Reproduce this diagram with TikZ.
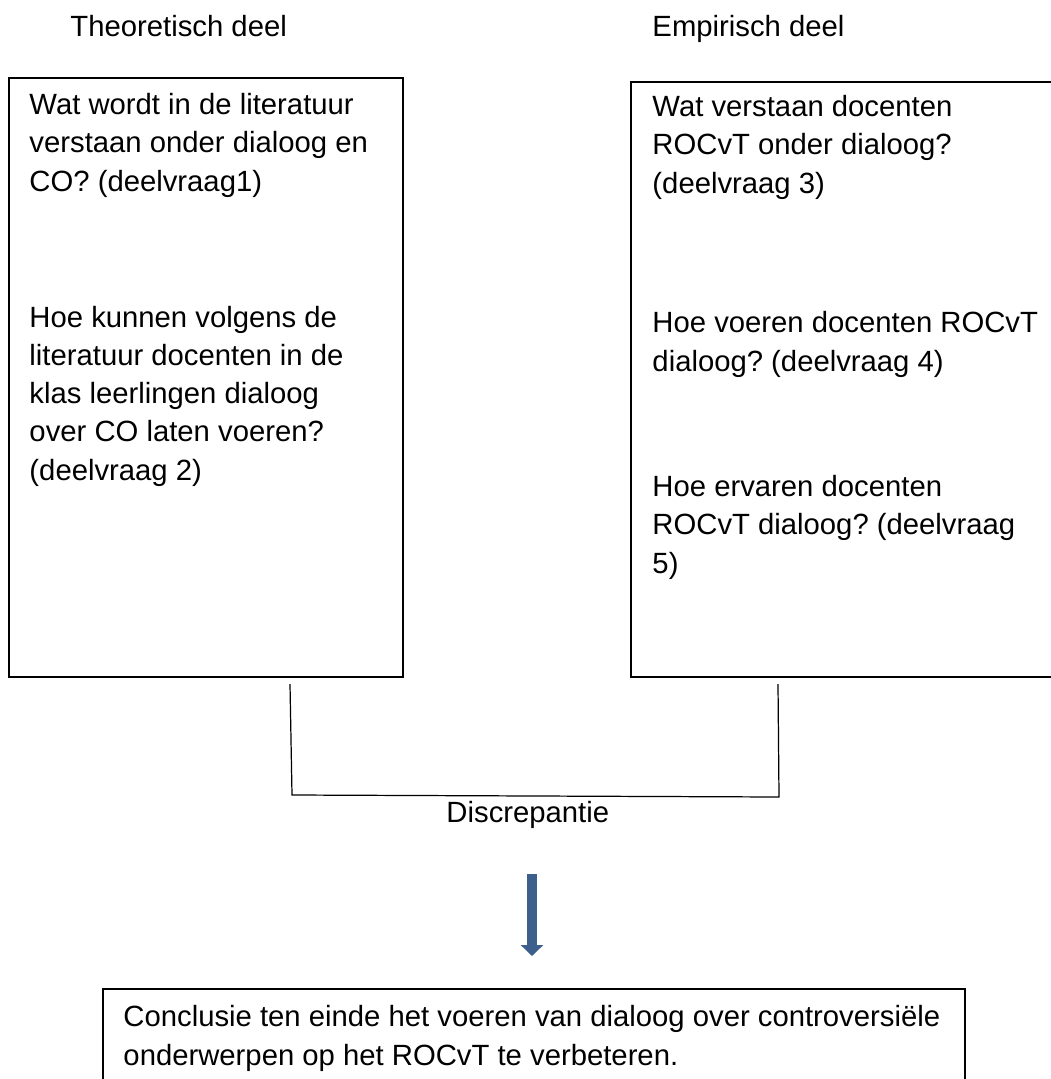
\documentclass[tikz,border=0pt]{standalone}
\usepackage{fontspec}
\setmainfont{Liberation Sans}
\usetikzlibrary{arrows.meta}
\definecolor{pijlblauw}{RGB}{60,95,140}
\frenchspacing

\begin{document}
\begin{tikzpicture}[x=0.41pt,y=-0.41pt,
  txt/.style={anchor=base west,inner sep=0pt,align=left,font=\fontsize{12pt}{15.6pt}\selectfont},
  kader/.style={line width=0.5pt}]
\useasboundingbox (0,0) rectangle (1051,1079);
% kopjes
\node[txt] (theorie) at (70,37) {Theoretisch deel};
\node[txt] (empirie) at (652,37) {Empirisch deel};
% kaders
\draw[kader] (9,78) rectangle (403,677);
\draw[kader] (1051,82) -- (631,82) -- (631,677) -- (1051,677);
% (base = basislijn van de laatste regel)
\node[txt] (dv1) at (29,191) {Wat wordt in de literatuur\\verstaan onder dialoog en\\CO? (deelvraag1)};
\node[txt] (dv2) at (29,480) {Hoe kunnen volgens de\\literatuur docenten in de\\klas leerlingen dialoog\\over CO laten voeren?\\(deelvraag 2)};
\node[txt] (dv3) at (652,193) {Wat verstaan docenten\\ROCvT onder dialoog?\\(deelvraag 3)};
\node[txt] (dv4) at (652,371) {Hoe voeren docenten ROCvT\\dialoog? (deelvraag 4)};
\node[txt] (dv5) at (652,573) {Hoe ervaren docenten\\ROCvT dialoog? (deelvraag\\5)};
% haak
\coordinate (hl) at (290,684);
\coordinate (hr) at (778,684);
\draw[kader] (hl) -- (292,795) -- (779,797) -- (hr);
\node[txt] (disc) at (446,822) {Discrepantie};
% pijl
\coordinate (pb) at (532,874);
\coordinate (pe) at (532,956);
\draw[pijlblauw, line width=4.1pt, -{Triangle[width=9pt,length=4.5pt]}] (pb) -- (pe);
% conclusie
\draw[kader] (103,1085) -- (103,989) -- (965,989) -- (965,1085);
\node[txt] (concl) at (123,1065) {Conclusie ten einde het voeren van dialoog over controversiële\\onderwerpen op het ROCvT te verbeteren.};
\end{tikzpicture}
\end{document}
